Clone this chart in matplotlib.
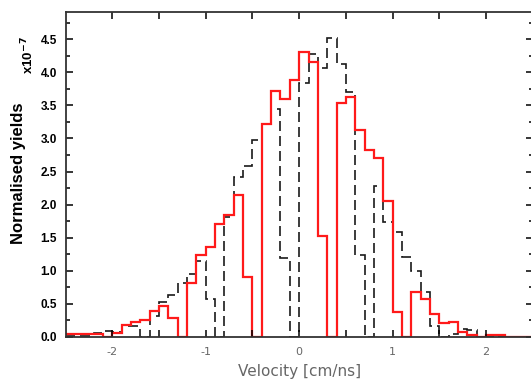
import numpy as np
import matplotlib
matplotlib.use("Agg")
import matplotlib.pyplot as plt
from matplotlib.ticker import MultipleLocator, FormatStrFormatter

# bin edges: 0.1 cm/ns wide, -2.5 .. 2.5
edges = np.round(np.arange(-2.5, 2.5001, 0.1), 2)

# red solid histogram (yields x 1e-7), one value per bin
red_yields = [
    0.045, 0.045, 0.045, 0.045, 0.0, 0.06, 0.18, 0.22, 0.26, 0.40,
    0.47, 0.28, 0.0, 0.81, 1.24, 1.36, 1.70, 1.85, 2.15, 0.91,
    0.0, 3.22, 3.71, 3.59, 3.88, 4.31, 4.16, 1.53, 0.0, 3.54,
    3.63, 3.12, 2.83, 2.70, 2.05, 0.38, 0.0, 0.68, 0.57, 0.35,
    0.21, 0.23, 0.07, 0.03, 0.0, 0.025, 0.025, 0.0, 0.0, 0.0,
]

# black dashed histogram
black_yields = [
    0.01, 0.015, 0.02, 0.055, 0.09, 0.08, 0.17, 0.16, 0.0, 0.31,
    0.53, 0.63, 0.82, 0.95, 1.15, 0.57, 0.0, 1.82, 2.41, 2.58,
    2.97, 3.22, 3.45, 1.19, 0.0, 3.84, 4.28, 4.06, 4.51, 4.12,
    3.70, 1.24, 0.0, 2.28, 1.74, 1.58, 1.21, 1.00, 0.68, 0.17,
    0.0, 0.045, 0.12, 0.11, 0.0, 0.02, 0.0, 0.0, 0.0, 0.0,
]

fig = plt.figure(figsize=(5.31, 3.81), dpi=100)
ax = fig.add_axes([0.1234, 0.1155, 0.88, 0.853])

ax.stairs(black_yields, edges, color="#1a1a1a", lw=1.2, ls=(0, (6, 3)))
ax.stairs(red_yields, edges, color="#ff1a1a", lw=1.6)

ax.set_xlim(-2.5, 2.5)
ax.set_ylim(0, 4.91)

ax.yaxis.set_major_locator(MultipleLocator(0.5))
ax.yaxis.set_minor_locator(MultipleLocator(0.25))
ax.yaxis.set_major_formatter(FormatStrFormatter("%.1f"))
ax.set_xticks([-2, -1.5, -1, -0.5, 0, 0.5, 1, 1.5, 2])
ax.set_xticklabels(["-2", "", "-1", "", "0", "", "1", "", "2"],
                   color="#666666", fontsize=8, family="DejaVu Sans")

ax.tick_params(which="both", direction="in", top=True, right=True, width=1.1)
ax.tick_params(which="major", length=5)
ax.tick_params(which="minor", length=3)
ax.tick_params(axis="x", pad=7)
ax.tick_params(axis="y", pad=6)
for lab in ax.get_yticklabels():
    lab.set_fontweight("bold")
    lab.set_fontsize(8.5)
    lab.set_family("Liberation Sans")

for s in ax.spines.values():
    s.set_linewidth(1.3)
    s.set_color("#333333")

ax.set_xlabel("Velocity [cm/ns]", fontsize=11, color="#666666", labelpad=5)
fig.text(0.034, 0.545, "Normalised yields", rotation=90, ha="center", va="center",
         fontsize=12, fontweight="bold", family="Liberation Sans")
fig.text(0.052, 0.856, r"x10$^{\mathbf{-7}}$", rotation=90, ha="center", va="center",
         fontsize=9.5, fontweight="bold", family="Liberation Sans")

fig.savefig("out.png", dpi=100)
